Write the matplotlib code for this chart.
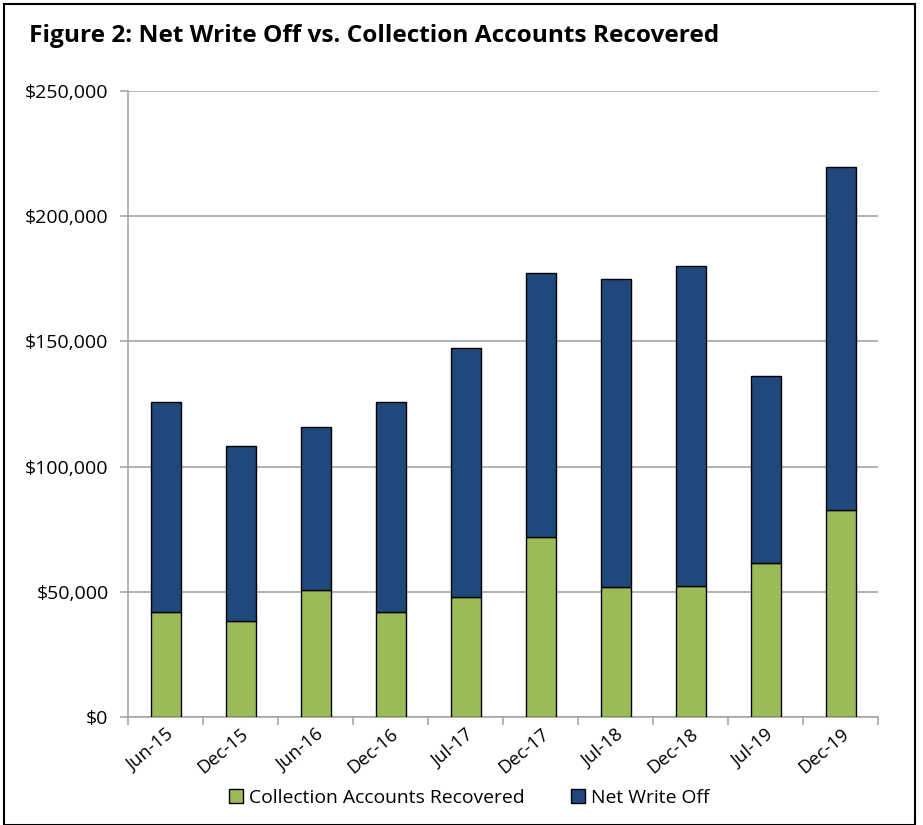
import matplotlib.pyplot as plt
import matplotlib.patches as mpatches
import numpy as np
from matplotlib.ticker import FuncFormatter, FixedLocator

# Data
periods = ["Jun-15", "Dec-15", "Jun-16", "Dec-16", "Jul-17",
           "Dec-17", "Jul-18", "Dec-18", "Jul-19", "Dec-19"]
recovered = [41900, 38300, 50800, 41900, 48000, 72000, 52000, 52300, 61500, 82700]
net_write_off = [84000, 70000, 65000, 83900, 99400, 105300, 123000, 127900, 74700, 137000]

plt.rcParams['font.family'] = ['Open Sans', 'DejaVu Sans']

fig = plt.figure(figsize=(9.23, 8.25), dpi=100)
ax = fig.add_axes([128 / 923, 108 / 825, 750 / 923, 626 / 825])

x = np.arange(len(periods))
green = "#9BBB59"
blue = "#1F497D"

ax.bar(x, recovered, width=0.4, color=green, edgecolor="black", linewidth=1,
       label="Collection Accounts Recovered", zorder=3)
ax.bar(x, net_write_off, width=0.4, bottom=recovered, color=blue, edgecolor="black",
       linewidth=1, label="Net Write Off", zorder=3)

# Axes styling
ax.set_xlim(-0.5, len(periods) - 0.5)
ax.set_ylim(0, 250000)
ax.set_yticks(np.arange(0, 250001, 50000))
ax.yaxis.set_major_formatter(FuncFormatter(lambda v, p: f"${v:,.0f}"))
ax.yaxis.grid(True, color="#a6a6a6", linewidth=1.2, zorder=0)
ax.set_axisbelow(True)

for side in ["top", "right"]:
    ax.spines[side].set_visible(False)
for side in ["left", "bottom"]:
    ax.spines[side].set_color("#a6a6a6")
    ax.spines[side].set_linewidth(1.2)

ax.set_xticks(x)
ax.set_xticklabels(periods, rotation=40, ha="right", rotation_mode="anchor", fontsize=13.3)
ax.tick_params(axis="x", which="major", length=0, pad=6)
ax.xaxis.set_minor_locator(FixedLocator(np.arange(-0.5, len(periods), 1.0)))
ax.tick_params(axis="x", which="minor", length=6, color="#a6a6a6", width=1.2)
ax.tick_params(axis="y", length=6, color="#a6a6a6", width=1.2, labelsize=14, pad=8)

# Title and legend
fig.text(29 / 923, 1 - 36 / 825, "Figure 2: Net Write Off vs. Collection Accounts Recovered",
         fontsize=17.6, fontweight="bold", va="center", ha="left")

fig.legend(loc="center", bbox_to_anchor=(469 / 923, 1 - 798 / 825), ncol=2, frameon=False,
           fontsize=13.9, handlelength=0.75, handleheight=0.75, handletextpad=0.3,
           columnspacing=2.4, borderaxespad=0)

# Outer frame
fig.patches.append(mpatches.Rectangle((4 / 923, 0), 911 / 923, 1 - 4 / 825,
                                      transform=fig.transFigure, fill=False,
                                      edgecolor="black", linewidth=1.5))

fig.savefig("out.png", dpi=100)
